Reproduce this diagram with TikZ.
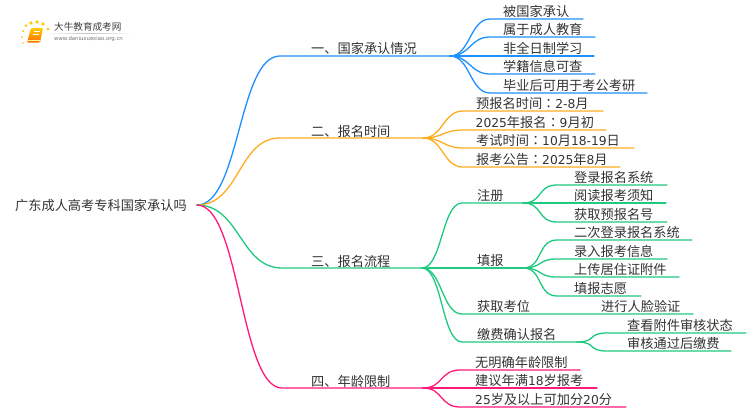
\documentclass[tikz,border=0pt]{standalone}
\usepackage{fontspec}
\setmainfont[Scale=0.93]{DejaVu Sans}
\newfontfamily\cjkf{Noto Sans CJK SC}
\newfontfamily\cjkt{Noto Sans CJK TC}
\newcommand{\zh}[1]{{\cjkf #1}}
\newcommand{\cln}{{\cjkt ：}}
\definecolor{cblue}{HTML}{1E90FF}
\definecolor{corange}{HTML}{FFAD1F}
\definecolor{cgreen}{HTML}{1FC97F}
\definecolor{cpink}{HTML}{FF1A7A}
\definecolor{ctext}{HTML}{333333}
\usetikzlibrary{calc}
\tikzset{
 link/.style={line width=1.3pt,line cap=round},
 label/.style={anchor=west,inner sep=0pt,text=ctext,font=\fontsize{13.2}{14}\selectfont},
}
% name, hub, colour, curve end x, line end x, y, text x, text
\newcommand{\leaf}[8]{%
 \coordinate (#1s) at (#4,#6); \coordinate (#1e) at (#5,#6);
 \node[label] (#1) at (#7,#6-7.3) {#8};
 \draw[link,#3] (#2) .. controls +(20,0) and ($(#1s)+(-20,0)$) .. (#1s) -- (#1e);
}
\begin{document}
\begin{tikzpicture}[x=1pt,y=-1pt]
\useasboundingbox (0,0) rectangle (750,410);
\fill[white] (0,0) rectangle (750,410);
% logo
\foreach \a/\b/\r in {23/43/0.8, 22/37/1, 23/31/1.2, 26/25.5/1.5, 31/23/1.8, 37/22/1.9, 43/24/1.8, 48/29/1.5}
  \fill[yellow!65!orange] (\a,\b) circle (\r);
\shade[top color=yellow!60!orange,bottom color=orange!85!red,rounded corners=1.2pt] (31,28) -- (43,28) -- (40,42.5) -- (27,42.5) -- cycle;
\draw[white,line width=0.7pt] (33.5,31.5) -- (40,31.5);
\draw[white,line width=0.7pt] (33,34.5) -- (39.4,34.5);
\draw[yellow!40,line width=0.6pt] (28,40.5) -- (39.5,40.5);
\shade[left color=white,right color=white,middle color=black!25] (45,33) rectangle (133,33.6);
\node[inner sep=0pt,anchor=west,text=black!75,font=\fontsize{9.6}{10}\selectfont] (logot) at (54,27) {\zh{大牛教育成考网}};
\node[inner sep=0pt,anchor=west,text=black!55,font=\fontsize{5.75}{6}\selectfont] (logou) at (54,39) {www.daniuxuexiao.org.cn};
% root
\node[label] (root) at (15,205.5) {\zh{广东成人高考专科国家承认吗}};
\coordinate (r) at (197,205);
% branches
\coordinate (h1) at (450,56); \coordinate (h2) at (423,138); \coordinate (h3) at (422,268); \coordinate (h4) at (423,388);
\coordinate (b1) at (280,56); \coordinate (b2) at (280,138); \coordinate (b3) at (282,268); \coordinate (b4) at (282,388);
\draw[link,cblue] (r) .. controls (240,205) and (238,56) .. (b1) -- (h1);
\draw[link,corange] (r) .. controls (240,205) and (238,138) .. (b2) -- (h2);
\draw[link,cgreen] (r) .. controls (240,205) and (240,268) .. (b3) -- (h3);
\draw[link,cpink] (r) .. controls (240,205) and (240,388) .. (b4) -- (h4);
\node[label] (n1) at (311,48.5) {\zh{一、国家承认情况}};
\node[label] (n2) at (311,131) {\zh{二、报名时间}};
\node[label] (n3) at (311,261) {\zh{三、报名流程}};
\node[label] (n4) at (311,381) {\zh{四、年龄限制}};
% branch 1
\leaf{a1}{h1}{cblue}{490}{583}{19}{503}{\zh{被国家承认}}
\leaf{a2}{h1}{cblue}{490}{595}{37}{503}{\zh{属于成人教育}}
\leaf{a3}{h1}{cblue}{490}{594}{56}{503}{\zh{非全日制学习}}
\leaf{a4}{h1}{cblue}{490}{595}{74}{503}{\zh{学籍信息可查}}
\leaf{a5}{h1}{cblue}{490}{647}{93}{503}{\zh{毕业后可用于考公考研}}
% branch 2
\leaf{b1n}{h2}{corange}{463}{603}{111}{476}{\zh{预报名时间}\cln 2-8\zh{月}}
\leaf{b2n}{h2}{corange}{463}{606}{130}{475.5}{2025\zh{年报名}\cln 9\zh{月初}}
\leaf{b3n}{h2}{corange}{463}{634}{148}{476}{\zh{考试时间}\cln 10\zh{月}18-19\zh{日}}
\leaf{b4n}{h2}{corange}{463}{620}{167}{476}{\zh{报考公告}\cln 2025\zh{年}8\zh{月}}
% branch 3
\leaf{c1}{h3}{cgreen}{462}{523}{203}{477}{\zh{注册}}
\leaf{c2}{h3}{cgreen}{462}{523}{268}{477}{\zh{填报}}
\leaf{c3}{h3}{cgreen}{462}{693}{314}{477}{\zh{获取考位}}
\leaf{c4}{h3}{cgreen}{462}{577}{342}{477}{\zh{缴费确认报名}}
\coordinate (c1h) at (523,203); \coordinate (c2h) at (523,268); \coordinate (c4h) at (577,342);
\leaf{d1}{c1h}{cgreen}{557}{667}{185}{574}{\zh{登录报名系统}}
\leaf{d2}{c1h}{cgreen}{557}{666}{203}{574}{\zh{阅读报考须知}}
\leaf{d3}{c1h}{cgreen}{557}{667}{222}{574}{\zh{获取预报名号}}
\leaf{e1}{c2h}{cgreen}{557}{692}{240}{574}{\zh{二次登录报名系统}}
\leaf{e2}{c2h}{cgreen}{557}{667}{259}{574}{\zh{录入报考信息}}
\leaf{e3}{c2h}{cgreen}{557}{679}{277}{574}{\zh{上传居住证附件}}
\leaf{e4}{c2h}{cgreen}{557}{641}{296}{574}{\zh{填报志愿}}
\node[label] (f1) at (601,306.7) {\zh{进行人脸验证}};
\leaf{g1}{c4h}{cgreen}{607}{746}{333}{627}{\zh{查看附件审核状态}}
\leaf{g2}{c4h}{cgreen}{607}{731}{351}{627}{\zh{审核通过后缴费}}
% branch 4
\leaf{k1}{h4}{cpink}{460}{580}{370}{475}{\zh{无明确年龄限制}}
\leaf{k2}{h4}{cpink}{460}{597}{388}{475}{\zh{建议年满}18\zh{岁报考}}
\leaf{k3}{h4}{cpink}{460}{626}{407}{475}{25\zh{岁及以上可加分}20\zh{分}}
\end{tikzpicture}
\end{document}
